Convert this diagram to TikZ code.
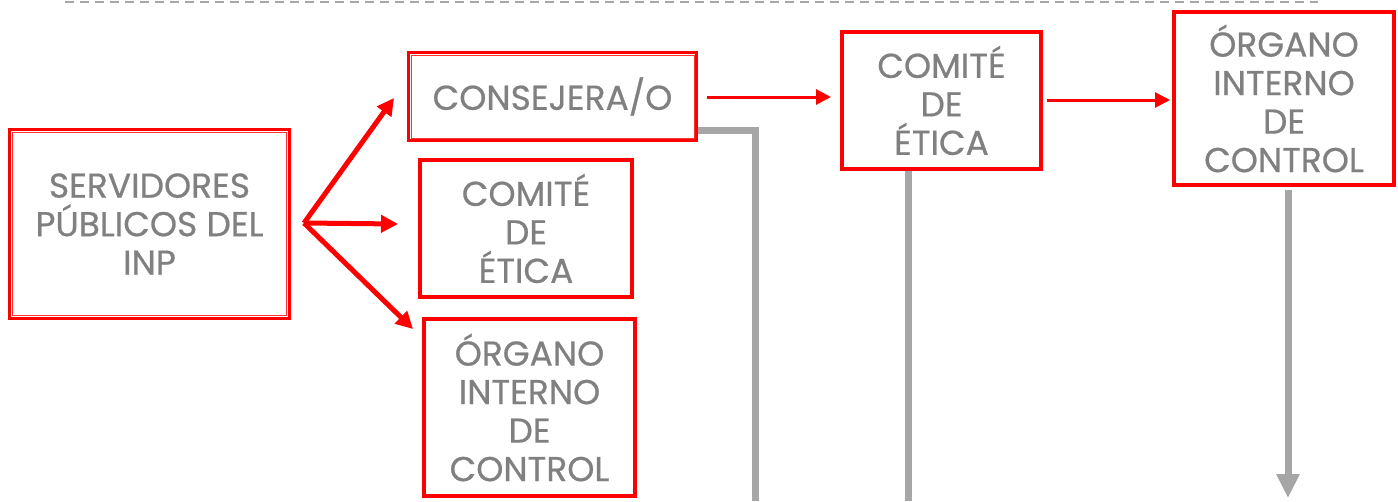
\documentclass[tikz,border=0pt]{standalone}
\usepackage{fontspec}
\setmainfont{Poppins}[FakeBold=0.6]
\usetikzlibrary{arrows.meta}
\definecolor{txtgray}{HTML}{808080}
\definecolor{lngray}{HTML}{A6A6A6}
\definecolor{bred}{HTML}{FF0000}
\begin{document}
\begin{tikzpicture}[x=1pt,y=-1pt,
  box/.style={draw=bred, line width=4pt, inner sep=0pt, align=center, text=txtgray,
    font=\fontsize{34.5}{38.5}\selectfont},
  redarr/.style={draw=bred, line width=5pt, -{Triangle[length=17pt,width=17pt]}},
  redthin/.style={draw=bred, line width=3pt, -{Triangle[length=15pt,width=15pt]}},
  grayline/.style={draw=lngray, line width=7pt},
  innerline/.style={draw=bred!80, line width=1pt}]
\useasboundingbox (0,0) rectangle (1398,501);
\draw[lngray, line width=2.5pt, dash pattern=on 9pt off 6pt] (65,2) -- (1318,2);

\node[box, line width=3.5pt, minimum width=280pt, minimum height=189pt] (srv) at (149.5,224) {SERVIDORES\\PÚBLICOS DEL\\INP};
\draw[innerline] ([xshift=5pt,yshift=-5pt]srv.north west) rectangle ([xshift=-5pt,yshift=5pt]srv.south east);

\node[box, line width=3pt, minimum width=288pt, minimum height=88pt] (cons) at (552.5,96.5) {CONSEJERA/O};
\draw[innerline] ([xshift=4pt,yshift=-4pt]cons.north west) rectangle ([xshift=-4pt,yshift=4pt]cons.south east);

\node[box, minimum width=212pt, minimum height=137pt] (com1) at (526,228.5) {COMITÉ\\DE\\ÉTICA};
\node[box, minimum width=211pt, minimum height=177pt] (oic1) at (529.5,407.5) {ÓRGANO\\INTERNO\\DE\\CONTROL};
\node[box, minimum width=199pt, minimum height=137pt] (com2) at (941.5,100.5) {COMITÉ\\DE\\ÉTICA};
\node[box, minimum width=220pt, minimum height=173pt] (oic2) at (1284,98.5) {ÓRGANO\\INTERNO\\DE\\CONTROL};

\coordinate (fan) at (304,223);
\coordinate (t1) at (394,98);
\coordinate (t2) at (398,224);
\coordinate (t3) at (413,329);
\draw[redarr] (fan) -- (t1);
\draw[redarr] (fan) -- (t2);
\draw[redarr] (fan) -- (t3);

\draw[redthin] ([xshift=9pt]cons.east |- 0,97) -- ([xshift=-9pt]com2.west |- 0,97);
\draw[redthin] ([xshift=4pt]com2.east |- 0,100) -- ([xshift=-2pt]oic2.west |- 0,100);

\coordinate (b1) at (755,501);
\draw[grayline] ([yshift=-34pt]cons.east) -| (b1);
\coordinate (b2) at (908,501);
\draw[grayline] (com2.south -| 908,0) -- (b2);
\coordinate (b3) at (1288,498);
\draw[grayline, -{Triangle[length=24pt,width=22pt]}] ([yshift=-3pt]oic2.south -| 1288,0) -- (b3);
\end{tikzpicture}
\end{document}
